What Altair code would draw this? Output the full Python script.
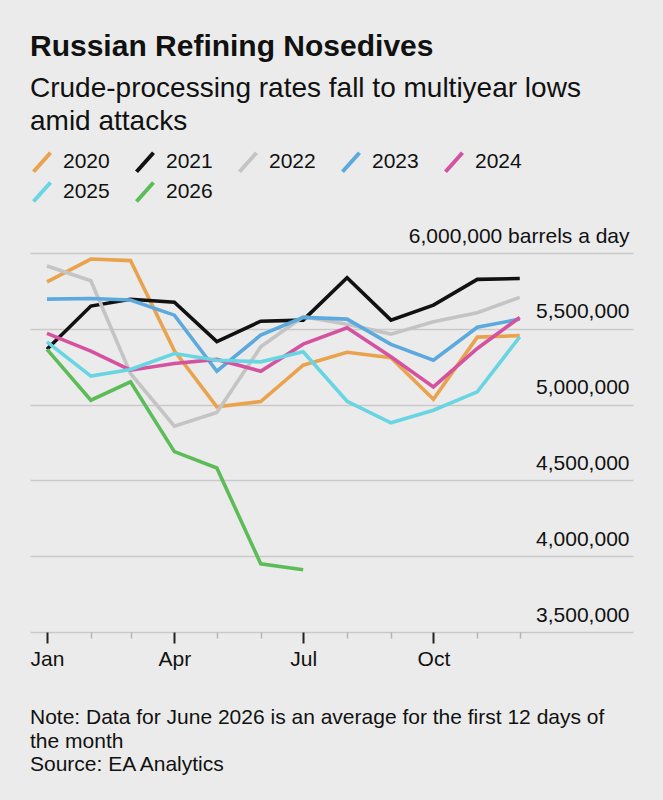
import altair as alt
import pandas as pd

months = ["2021-01-01", "2021-02-01", "2021-03-01", "2021-04-01", "2021-05-01", "2021-06-01",
          "2021-07-01", "2021-08-01", "2021-09-01", "2021-10-01", "2021-11-01", "2021-12-01"]
years = ["2020", "2021", "2022", "2023", "2024", "2025", "2026"]
colors = ["#e9a34e", "#111111", "#c4c4c4", "#5ba9dd", "#d4529f", "#67d5e2", "#5cbd58"]

y2020 = [5810000, 5960000, 5950000, 5355000, 4985000, 5020000, 5260000, 5345000, 5310000, 5035000, 5445000, 5455000]
y2021 = [5365000, 5650000, 5695000, 5675000, 5415000, 5550000, 5557000, 5837000, 5557000, 5656000, 5826000, 5832000]
y2022 = [5914000, 5817000, 5205000, 4858000, 4948000, 5381000, 5580000, 5530000, 5465000, 5546000, 5606000, 5707000]
y2023 = [5696000, 5700000, 5690000, 5590000, 5220000, 5458000, 5575000, 5564000, 5397000, 5293000, 5510000, 5564000]
y2024 = [5470000, 5353000, 5227000, 5271000, 5298000, 5220000, 5399000, 5507000, 5315000, 5117000, 5370000, 5575000]
y2025 = [5414000, 5188000, 5232000, 5337000, 5293000, 5282000, 5348000, 5022000, 4880000, 4963000, 5084000, 5447000]
y2026 = [5364000, 5029000, 5150000, 4690000, 4582000, 3950000, 3911000]

series = [y2020, y2021, y2022, y2023, y2024, y2025, y2026]
rows = []
for yr, vals in zip(years, series):
    for i, v in enumerate(vals):
        rows.append({"month": months[i], "year": yr, "value": v, "order": years.index(yr)})
df = pd.DataFrame(rows)

note = ["Note: Data for June 2026 is an average for the first 12 days of",
        "the month", "Source: EA Analytics"]

FONT = "Liberation Sans"

x_enc = alt.X(
    "month:T",
    title=None,
    scale=alt.Scale(type="utc",
                    domain=[alt.DateTime(year=2020, month=12, date=20, utc=True),
                            alt.DateTime(year=2022, month=2, date=19, utc=True)]),
    axis=alt.Axis(
        values=[alt.DateTime(year=2021, month=m, date=1, utc=True) for m in range(1, 13)],
        labelExpr="utcmonth(datum.value) % 3 == 0 ? utcFormat(datum.value, '%b') : ''",
        grid=False, domain=False,
        tickSize={"condition": {"test": "utcmonth(datum.value) % 3 == 0", "value": 11}, "value": 6},
        tickColor={"condition": {"test": "utcmonth(datum.value) % 3 == 0", "value": "#222222"}, "value": "#b5b5b5"},
        tickWidth={"condition": {"test": "utcmonth(datum.value) % 3 == 0", "value": 2}, "value": 1.5},
        labelFontSize=21, labelColor="#111111", labelFont=FONT, labelPadding=5,
        labelFlush=False, labelOverlap=False,
    ),
)

y_enc = alt.Y(
    "value:Q",
    title=None,
    scale=alt.Scale(domain=[3500000, 6000000], nice=False, zero=False),
    axis=alt.Axis(
        orient="right", values=[3500000, 4000000, 4500000, 5000000, 5500000, 6000000],
        format=",d",
        labelExpr="datum.value == 6000000 ? datum.label + ' barrels a day' : datum.label",
        domain=False, ticks=False, grid=True, gridColor="#c9c9c9", gridWidth=1.5,
        labelAlign="right", labelBaseline="alphabetic", labelPadding=-4, labelOffset=-11,
        labelFontSize=21, labelColor="#111111", labelFont=FONT, labelLimit=500,
    ),
)

lines = alt.Chart(df).mark_line(strokeWidth=3.6, strokeJoin="miter").encode(
    x=x_enc,
    y=y_enc,
    color=alt.Color(
        "year:N",
        scale=alt.Scale(domain=years, range=colors),
        legend=alt.Legend(
            title=None, orient="none", legendX=0, legendY=-103, direction="horizontal",
            columns=5, columnPadding=18, rowPadding=-7, padding=0,
            symbolType="M-0.85,0.95L0.85,-0.95", symbolSize=400, symbolStrokeWidth=4,
            symbolFillColor="transparent", labelOffset=9,
            labelFontSize=21, labelFont=FONT, labelColor="#111111",
        ),
    ),
    order=alt.Order("order:Q"),
    detail="year:N",
)

footer = alt.Chart(pd.DataFrame({"t": [note]})).mark_text(
    align="left", baseline="alphabetic", fontSize=21, font=FONT, color="#111111",
    lineHeight=23.5,
).encode(text="t", x=alt.value(0), y=alt.value(471))

chart = alt.layer(lines, footer).properties(
    width=603, height=379,
    background="#ebebeb",
    padding={"left": 30, "right": 30, "top": 253, "bottom": 168},
    autosize=alt.AutoSizeParams(type="none"),
    title=alt.TitleParams(
        text="Russian Refining Nosedives",
        subtitle=["Crude-processing rates fall to multiyear lows", "amid attacks"],
        anchor="start", frame="group", offset=14,
        font=FONT, fontSize=30, fontWeight="bold", color="#111111",
        subtitleFont=FONT, subtitleFontSize=28, subtitleColor="#111111",
        subtitleLineHeight=33, subtitlePadding=13,
    ),
).configure_view(stroke=None)

chart.save("out.html", embed_options={"renderer": "svg", "actions": False})
